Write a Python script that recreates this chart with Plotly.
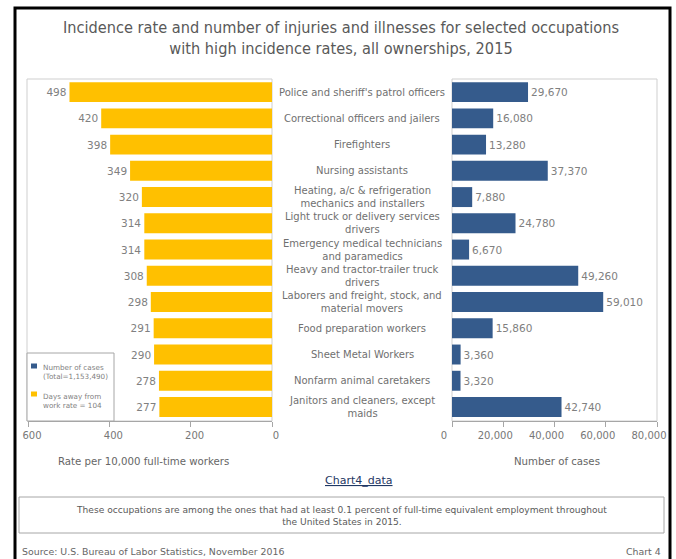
import plotly.graph_objects as go

# Occupations, top to bottom
occupations = [
    "Police and sheriff's patrol officers",
    "Correctional officers and jailers",
    "Firefighters",
    "Nursing assistants",
    "Heating, a/c & refrigeration<br>mechanics and installers",
    "Light truck or delivery services<br>drivers",
    "Emergency medical technicians<br>and paramedics",
    "Heavy and tractor-trailer truck<br>drivers",
    "Laborers and freight, stock, and<br>material movers",
    "Food preparation workers",
    "Sheet Metal Workers",
    "Nonfarm animal caretakers",
    "Janitors and cleaners, except<br>maids",
]
# Incidence rate per 10,000 full-time workers
rates = [498, 420, 398, 349, 320, 314, 314, 308, 298, 291, 290, 278, 277]
# Number of cases
cases = [29670, 16080, 13280, 37370, 7880, 24780, 6670, 49260, 59010, 15860, 3360, 3320, 42740]

rate_ticks = [0, 200, 400, 600]
case_ticks = [0, 20000, 40000, 60000, 80000]

YELLOW = "#FFC000"
BLUE = "#355B8C"
FONT = "DejaVu Sans"
W, H = 676, 559


def px(x):
    return x / W


def py(y):
    return 1 - y / H


fig = go.Figure()

fig.add_trace(go.Bar(
    x=rates, y=occupations, orientation="h",
    xaxis="x", yaxis="y",
    marker=dict(color=YELLOW, line=dict(width=0)),
    text=rates, textposition="outside", constraintext="none",
    textfont=dict(family=FONT, size=10.5, color="#808080"),
    cliponaxis=False, showlegend=False,
    name="Days away from work rate",
))

fig.add_trace(go.Bar(
    x=cases, y=occupations, orientation="h",
    xaxis="x2", yaxis="y",
    marker=dict(color=BLUE, line=dict(width=0)),
    texttemplate="%{x:,}", textposition="outside", constraintext="none",
    textfont=dict(family=FONT, size=10.5, color="#808080"),
    cliponaxis=False, showlegend=False,
    name="Number of cases",
))

axis_style = dict(
    showgrid=False, zeroline=False, showline=True, linecolor="#a6a6a6",
    ticks="outside", ticklen=5, tickcolor="#a6a6a6",
    tickfont=dict(family=FONT, size=10, color="#777777"),
    anchor="y", fixedrange=True, automargin=False,
)

fig.update_layout(
    width=W, height=H,
    margin=dict(l=0, r=0, t=0, b=0, autoexpand=False),
    paper_bgcolor="white", plot_bgcolor="white",
    bargap=0.24,
    xaxis=dict(domain=[px(28), px(272)], range=[600, 0], tickvals=rate_ticks,
               ticklabelshift=-4, **axis_style),
    xaxis2=dict(domain=[px(452), px(657)], range=[0, 80000], tickvals=case_ticks,
                tickformat=",", ticklabelshift=-8, **axis_style),
    yaxis=dict(domain=[py(421), py(79)], type="category",
               categoryorder="array", categoryarray=occupations,
               autorange="reversed", showticklabels=False, showgrid=False,
               zeroline=False, showline=False, fixedrange=True, automargin=False),
)

shapes = []
# panel outlines
for x0, x1 in [(27, 272), (452, 657)]:
    shapes.append(dict(type="rect", xref="paper", yref="paper",
                       x0=px(x0), x1=px(x1), y0=py(421), y1=py(79),
                       line=dict(color="#cfcfcf", width=1), layer="below"))
# legend box and swatches
shapes.append(dict(type="rect", xref="paper", yref="paper",
                   x0=px(27), x1=px(114), y0=py(421), y1=py(353),
                   line=dict(color="#a6a6a6", width=1), fillcolor="white", layer="above"))
for yy, col in [(366, BLUE), (394, YELLOW)]:
    shapes.append(dict(type="rect", xref="paper", yref="paper",
                       x0=px(31), x1=px(37), y0=py(yy + 2.5), y1=py(yy - 2.5),
                       line=dict(width=0), fillcolor=col, layer="above"))
# note box
shapes.append(dict(type="rect", xref="paper", yref="paper",
                   x0=px(19), x1=px(664), y0=py(533), y1=py(497),
                   line=dict(color="#a6a6a6", width=1)))
# outer frame
shapes.append(dict(type="rect", xref="paper", yref="paper",
                   x0=px(15), x1=px(670), y0=-0.2, y1=py(8),
                   line=dict(color="black", width=3)))
fig.update_layout(shapes=shapes)

annotations = []


def note(text, x, y, size, color="#666666", xanchor="center", family=FONT, align="center"):
    annotations.append(dict(text=text, xref="paper", yref="paper", x=px(x), y=py(y),
                            xanchor=xanchor, yanchor="middle", showarrow=False,
                            align=align, font=dict(family=family, size=size, color=color)))


TITLE_FONT = "DejaVu Sans Condensed, Liberation Sans"
note("Incidence rate and number of injuries and illnesses for selected occupations"
     "<br>with high incidence rates, all ownerships, 2015",
     341, 38.5, 16.2, "#595959", family=TITLE_FONT)

# occupation labels between the panels
for occ in occupations:
    annotations.append(dict(text=occ, xref="paper", yref="y", x=px(362), y=occ,
                            xanchor="center", yanchor="middle", showarrow=False,
                            align="center",
                            font=dict(family=FONT, size=10, color="#707070")))

note("Rate per 10,000 full-time workers", 143, 461, 10.2)
note("Number of cases", 557, 461, 10.2)
note("<u>Chart4_data</u>", 359, 480, 11, "#1F3864")
note("These occupations are among the ones that had at least 0.1 percent of full-time equivalent employment throughout<br>the United States in 2015.",
     341, 516, 9.1, "#595959")
note("Source: U.S. Bureau of Labor Statistics, November 2016", 20, 551, 9.4, xanchor="left")
note("Chart 4", 663, 551, 9.4, xanchor="right")

# legend text
note("Number of cases<br>(Total=1,153,490)", 41, 372, 7.2, "#7f7f7f", xanchor="left", align="left")
note("Days away from<br>work rate = 104", 41, 401, 7.2, "#7f7f7f", xanchor="left", align="left")

fig.update_layout(annotations=annotations)

fig.write_html("out.html")
